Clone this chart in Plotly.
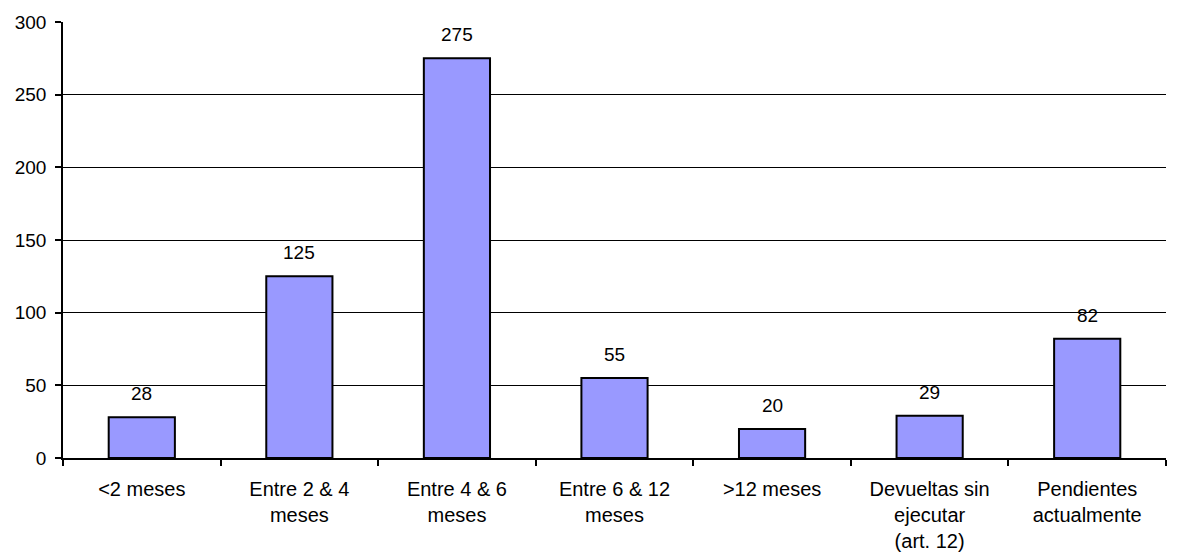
import plotly.graph_objects as go

categories = [
    "<2 meses",
    "Entre 2 & 4<br>meses",
    "Entre 4 & 6<br>meses",
    "Entre 6 & 12<br>meses",
    ">12 meses",
    "Devueltas sin<br>ejecutar<br>(art. 12)",
    "Pendientes<br>actualmente",
]
values = [28, 125, 275, 55, 20, 29, 82]
y_ticks = [0, 50, 100, 150, 200, 250, 300]

FONT = "Liberation Sans, Arial, sans-serif"

fig = go.Figure(
    go.Bar(
        x=categories,
        y=values,
        width=0.42,
        marker=dict(color="#9999FF", line=dict(color="black", width=2)),
        hoverinfo="x+y",
    )
)

# value labels above each bar
for c, v in zip(categories, values):
    fig.add_annotation(
        x=c, y=v, text=str(v), showarrow=False,
        yanchor="bottom", yshift=11,
        font=dict(family=FONT, size=19, color="black"),
    )

fig.update_layout(
    width=1182, height=554,
    margin=dict(l=63, r=16, t=22, b=96),
    paper_bgcolor="white", plot_bgcolor="white",
    showlegend=False,
    font=dict(family=FONT, size=19, color="black"),
    bargap=0.58,
)
fig.update_xaxes(
    type="category",
    automargin=False,
    showline=True, linecolor="black", linewidth=1.5,
    ticks="outside", tickson="boundaries", ticklen=6, tickcolor="black", tickwidth=1.5,
    showgrid=False,
    ticklabelstandoff=12,
    tickfont=dict(family=FONT, size=20, color="black"),
)
fig.update_yaxes(
    range=[0, 300],
    automargin=False,
    tickvals=y_ticks,
    showline=True, linecolor="black", linewidth=1.5,
    ticks="outside", ticklen=6, tickcolor="black", tickwidth=1.5,
    showgrid=True, gridcolor="black", gridwidth=1,
    zeroline=False,
    ticklabelstandoff=5,
    tickfont=dict(family=FONT, size=19, color="black"),
)

fig.write_html("out.html")
